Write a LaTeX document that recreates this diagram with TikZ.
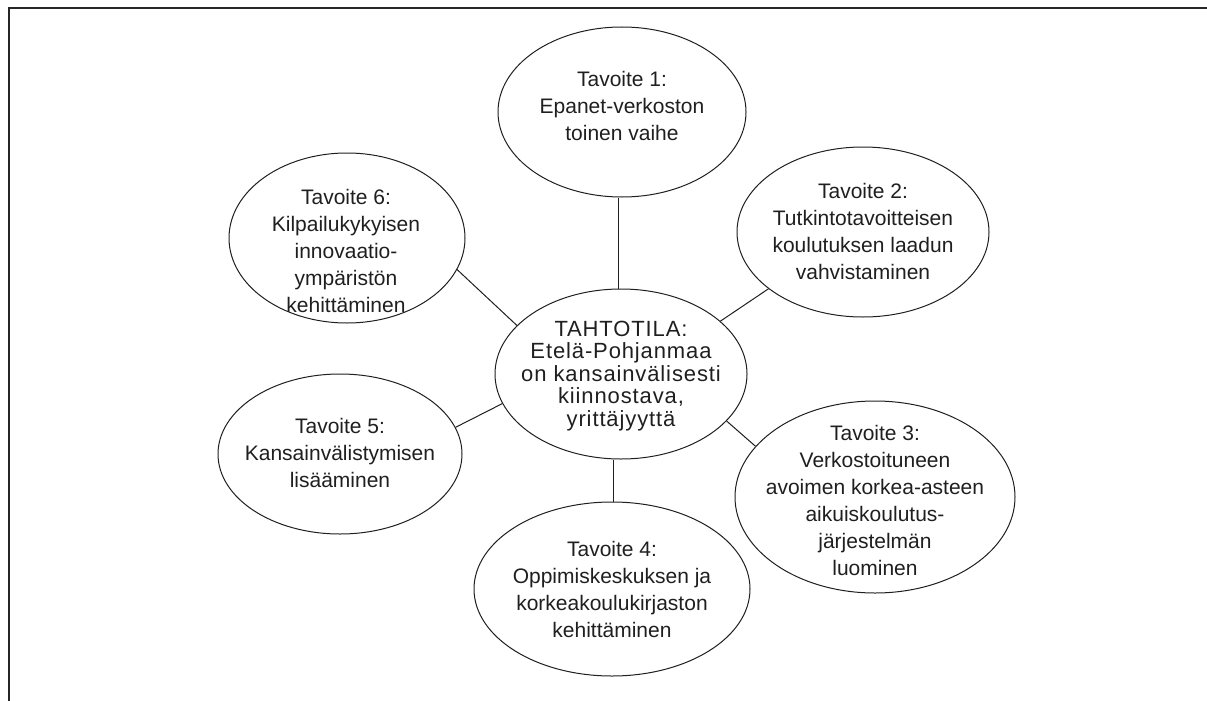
\documentclass[tikz,border=0pt]{standalone}
\usepackage{fontspec}
\setmainfont{Liberation Sans}
\newfontfamily\centerfont[LetterSpace=4]{Liberation Sans}
\usetikzlibrary{shapes.geometric}
\begin{document}
\begin{tikzpicture}[x=1pt,y=-1pt,
  goal/.style={draw=black!88, line width=1pt, ellipse, inner sep=0pt},
  goaltext/.style={align=center, font=\fontsize{21}{27}\selectfont, text=black!88, inner sep=0pt},
  hubtext/.style={align=center, font=\centerfont\fontsize{22}{22.5}\selectfont, text=black!88, inner sep=0pt},
  link/.style={draw=black!88, line width=1pt}]
\useasboundingbox (0,0) rectangle (1207,701);
\draw[line width=2pt, black!85] (9,701) -- (9,8) -- (1207,8);

% ellipses
\node[goal, minimum width=248pt, minimum height=170pt] (t1) at (622,112) {};
\node[goal, minimum width=252pt, minimum height=170pt] (c)  at (621,374) {};
\node[goal, minimum width=252pt, minimum height=170pt] (t2) at (863,232) {};
\node[goal, minimum width=280pt, minimum height=192pt] (t3) at (875,497) {};
\node[goal, minimum width=276pt, minimum height=174pt] (t4) at (612,589) {};
\node[goal, minimum width=244pt, minimum height=160pt] (t5) at (340,454) {};
\node[goal, minimum width=236pt, minimum height=170pt] (t6) at (347,238) {};

% texts
\node[goaltext] (t1txt) at (622,106) {Tavoite 1:\\Epanet-verkoston\\toinen vaihe};
\node[hubtext]  (ctxt)  at (621,376) {TAHTOTILA:\\Etelä-Pohjanmaa\\on kansainvälisesti\\kiinnostava,\\yrittäjyyttä};
\node[goaltext] (t2txt) at (863,231) {Tavoite 2:\\Tutkintotavoitteisen\\koulutuksen laadun\\vahvistaminen};
\node[goaltext] (t3txt) at (875,500) {Tavoite 3:\\Verkostoituneen\\avoimen korkea-asteen\\aikuiskoulutus-\\järjestelmän\\luominen};
\node[goaltext] (t4txt) at (612,589) {Tavoite 4:\\Oppimiskeskuksen ja\\korkeakoulukirjaston\\kehittäminen};
\node[goaltext] (t5txt) at (340,453) {Tavoite 5:\\Kansainvälistymisen\\lisääminen};
\node[goaltext] (t6txt) at (346,251) {Tavoite 6:\\Kilpailukykyisen\\innovaatio-\\ympäristön\\kehittäminen};

% connectors
\draw[link] ([xshift=-4pt]t1.south) -- ([xshift=-3pt]c.north);
\draw[link] (t2.211) -- (c.28);
\draw[link] (t6.344) -- (c.155);
\draw[link] (t5.13) -- (c.194);
\draw[link] (t3.157) -- (c.336);
\draw[link] ([xshift=-8pt]c.south) -- ([xshift=1pt]t4.north);
\end{tikzpicture}
\end{document}
